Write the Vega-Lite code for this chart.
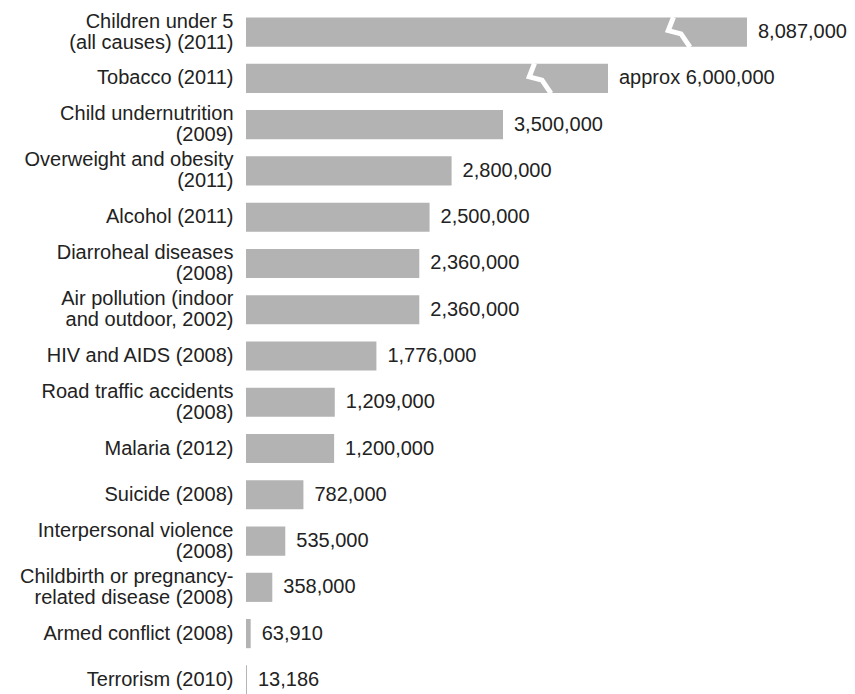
{
  "$schema": "https://vega.github.io/schema/vega-lite/v6.json",
  "autosize": "none",
  "padding": {"left": 246, "top": 9, "right": 0, "bottom": 0},
  "width": 609,
  "height": 694,
  "background": "white",
  "config": {"view": {"stroke": null}},
  "data": {"values": [
    {"cause": "Children under 5\n(all causes) (2011)", "deaths": 8087000, "text": "8,087,000", "broken": true},
    {"cause": "Tobacco (2011)", "deaths": 6000000, "text": "approx 6,000,000", "broken": true},
    {"cause": "Child undernutrition\n(2009)", "deaths": 3500000, "text": "3,500,000", "broken": false},
    {"cause": "Overweight and obesity\n(2011)", "deaths": 2800000, "text": "2,800,000", "broken": false},
    {"cause": "Alcohol (2011)", "deaths": 2500000, "text": "2,500,000", "broken": false},
    {"cause": "Diarroheal diseases\n(2008)", "deaths": 2360000, "text": "2,360,000", "broken": false},
    {"cause": "Air pollution (indoor\nand outdoor, 2002)", "deaths": 2360000, "text": "2,360,000", "broken": false},
    {"cause": "HIV and AIDS (2008)", "deaths": 1776000, "text": "1,776,000", "broken": false},
    {"cause": "Road traffic accidents\n(2008)", "deaths": 1209000, "text": "1,209,000", "broken": false},
    {"cause": "Malaria (2012)", "deaths": 1200000, "text": "1,200,000", "broken": false},
    {"cause": "Suicide (2008)", "deaths": 782000, "text": "782,000", "broken": false},
    {"cause": "Interpersonal violence\n(2008)", "deaths": 535000, "text": "535,000", "broken": false},
    {"cause": "Childbirth or pregnancy-\nrelated disease (2008)", "deaths": 358000, "text": "358,000", "broken": false},
    {"cause": "Armed conflict (2008)", "deaths": 63910, "text": "63,910", "broken": false},
    {"cause": "Terrorism (2010)", "deaths": 13186, "text": "13,186", "broken": false}
  ]},
  "encoding": {
    "y": {
      "field": "cause", "type": "nominal", "sort": null,
      "scale": {"paddingInner": 0.37, "paddingOuter": 0.185},
      "axis": {
        "title": null, "domain": false, "ticks": false, "labelPadding": 13,
        "labelFont": "Liberation Sans", "labelFontSize": 20, "labelColor": "#222222",
        "labelLimit": 400, "labelLineHeight": 21,
        "labelOffset": {"condition": {"test": "indexof(datum.label, '\\n') >= 0", "value": -10.5}, "value": 0},
        "labelExpr": "split(datum.label, '\\n')"
      }
    },
    "x": {
      "field": "deaths", "type": "quantitative", "axis": null,
      "scale": {"domain": [0, 3500000, 6000000, 8087000], "range": [0, 257, 362, 501], "nice": false, "zero": false}
    }
  },
  "layer": [
    {"mark": {"type": "bar", "color": "#b3b3b3"}},
    {
      "transform": [{"filter": "datum.broken"}],
      "mark": {"type": "point", "filled": false, "stroke": "white", "strokeWidth": 5, "size": 900, "opacity": 1,
               "shape": "M -0.3 -1 L -0.65 -0.1 L 0.2 0.12 L 0.8 1"},
      "encoding": {"xOffset": {"value": -69}}
    },
    {
      "mark": {"type": "text", "align": "left", "baseline": "middle", "dx": 11, "font": "Liberation Sans", "fontSize": 20, "color": "#222222"},
      "encoding": {"text": {"field": "text"}}
    }
  ]
}
